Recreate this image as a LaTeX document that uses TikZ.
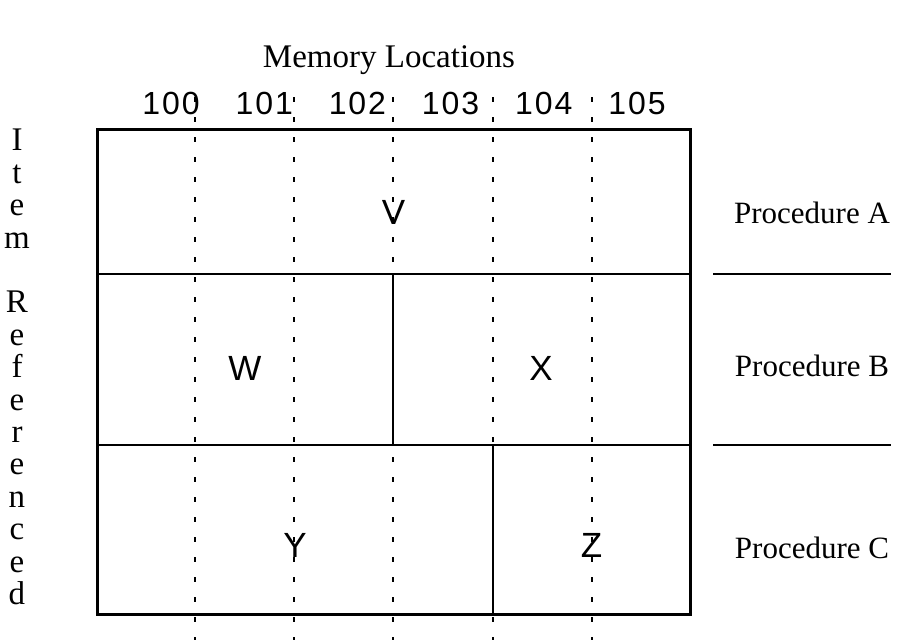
\documentclass[tikz,border=0pt]{standalone}
\usepackage{fontspec}
\setmainfont{Liberation Serif}
\setsansfont{Liberation Sans}
\usepackage{tikz}
\usetikzlibrary{positioning}

\begin{document}
\begin{tikzpicture}[x=1pt,y=-1pt,inner sep=0pt,
				frame/.style={line width=3pt},
				wall/.style={line width=2.4pt},
				locline/.style={line width=2pt,dash pattern=on 5pt off 15pt},
				item/.style={font=\sffamily\fontsize{35}{35}\selectfont},
				addr/.style={font=\sffamily\fontsize{32}{32}\selectfont\addfontfeature{LetterSpace=6},anchor=base},
				proc/.style={font=\fontsize{31}{31}\selectfont}]
				\useasboundingbox (0,0) rectangle (899,640);
				% titles
				\node[font=\fontsize{33}{33}\selectfont,anchor=base] (title) at (389,67) {Memory Locations};
				\node[font=\fontsize{33}{32.4}\selectfont,align=center,anchor=north] (axis) at (17,129)
					{I\\t\\e\\m\\ \\R\\e\\f\\e\\r\\e\\n\\c\\e\\d};
				% addresses
				\foreach \a [count=\i from 0] in {100,101,102,103,104,105}
					\node[addr] (a\a) at (171+93.2*\i,114) {\a};
				% memory location boundaries
				\foreach \x [count=\i] in {195,294,393,493,592} {
					\coordinate (top\i) at (\x,97);
					\coordinate (bot\i) at (\x,640);
					\draw[locline] (top\i) -- (bot\i);
				}
				% box and walls
				\coordinate (nw) at (97,129);
				\coordinate (se) at (690,614);
				\draw[frame] (nw) rectangle (se);
				\draw[wall] (97,274) -- (690,274);
				\draw[wall] (97,445) -- (690,445);
				\draw[wall] (393,274) -- (393,445);
				\draw[wall] (493,445) -- (493,614);
				% items
				\node[item] (v) at (393.5,212) {V};
				\node[item] (w) at (245,368) {W};
				\node[item] (x) at (541,368) {X};
				\node[item] (y) at (295,545) {Y};
				\node[item] (z) at (591.5,545) {Z};
				% procedures
				\node[proc] (pa) at (812,213) {Procedure A};
				\node[proc] (pb) at (812,366) {Procedure B};
				\node[proc] (pc) at (812,548) {Procedure C};
				\draw[wall] (713,274) -- (891,274);
				\draw[wall] (713,445) -- (891,445);
			\end{tikzpicture}
\end{document}
